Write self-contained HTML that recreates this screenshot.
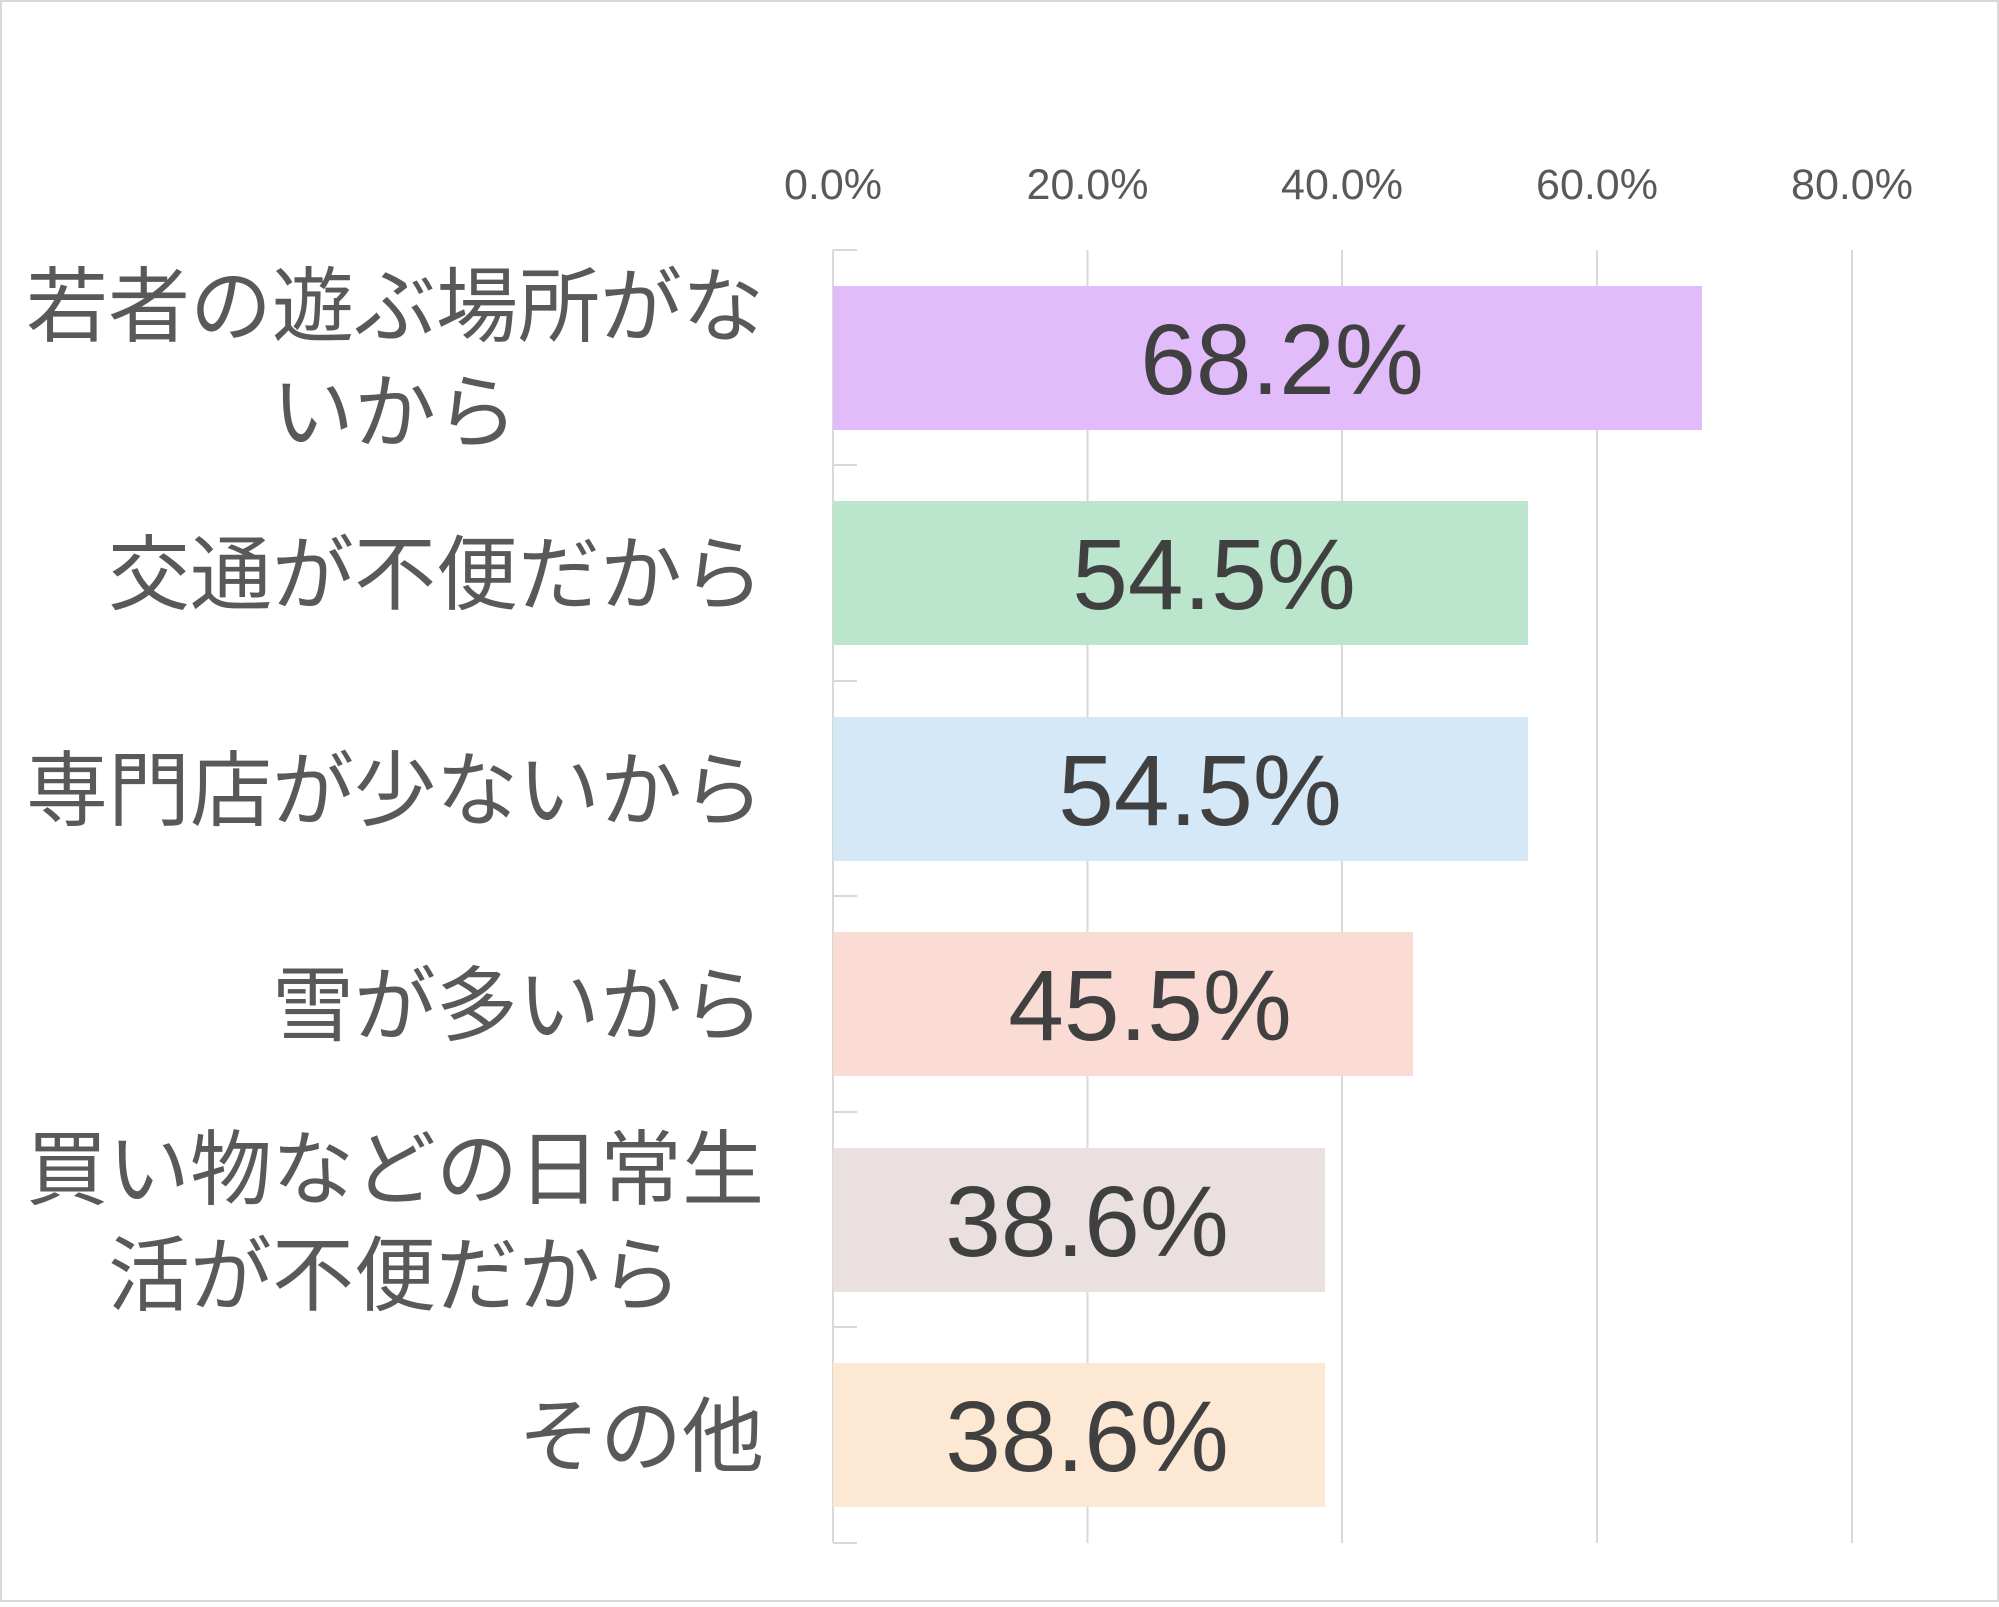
<!DOCTYPE html>
<html><head><meta charset="utf-8"><style>html,body{margin:0;padding:0;background:#fff}</style></head>
<body>
<svg width="1999" height="1602" viewBox="0 0 1999 1602" xmlns="http://www.w3.org/2000/svg">
<rect x="1" y="1" width="1997" height="1600" fill="#fff" stroke="#d9d9d9" stroke-width="2"/>
<g stroke="#d9d9d9" stroke-width="2">
<line x1="1087.5" y1="250" x2="1087.5" y2="1543"/>
<line x1="1342" y1="250" x2="1342" y2="1543"/>
<line x1="1597" y1="250" x2="1597" y2="1543"/>
<line x1="1852" y1="250" x2="1852" y2="1543"/>
<line x1="833" y1="250" x2="833" y2="1543"/>
<line x1="833" y1="250" x2="857" y2="250"/>
<line x1="833" y1="465" x2="857" y2="465"/>
<line x1="833" y1="681" x2="857" y2="681"/>
<line x1="833" y1="896" x2="857" y2="896"/>
<line x1="833" y1="1112" x2="857" y2="1112"/>
<line x1="833" y1="1327" x2="857" y2="1327"/>
<line x1="833" y1="1543" x2="857" y2="1543"/>
</g>
<g font-family="Liberation Sans, sans-serif" font-size="43" fill="#595959" text-anchor="middle">
<text x="833" y="199">0.0%</text>
<text x="1087.5" y="199">20.0%</text>
<text x="1342" y="199">40.0%</text>
<text x="1597" y="199">60.0%</text>
<text x="1852" y="199">80.0%</text>
</g>
<rect x="833" y="286" width="869" height="144" fill="#e2bbfa"/>
<rect x="833" y="501" width="695" height="144" fill="#bce5cd"/>
<rect x="833" y="717" width="695" height="144" fill="#d5e8f7"/>
<rect x="833" y="932" width="580" height="144" fill="#fadcd5"/>
<rect x="833" y="1148" width="492" height="144" fill="#ebe0e0"/>
<rect x="833" y="1363" width="492" height="144" fill="#fde8d3"/>
<g font-family="Liberation Sans, sans-serif" font-size="100" fill="#404040" text-anchor="middle">
<text x="1282" y="394">68.2%</text>
<text x="1214" y="609">54.5%</text>
<text x="1200" y="825">54.5%</text>
<text x="1150" y="1040">45.5%</text>
<text x="1087" y="1256">38.6%</text>
<text x="1087" y="1471">38.6%</text>
</g>
<g font-family="Liberation Sans, 'Noto Sans CJK JP', sans-serif" font-size="82" fill="#595959">
<text x="395" y="335" text-anchor="middle">若者の遊ぶ場所がな</text>
<text x="395" y="441" text-anchor="middle">いから</text>
<text x="764" y="603" text-anchor="end">交通が不便だから</text>
<text x="764" y="819" text-anchor="end">専門店が少ないから</text>
<text x="764" y="1034" text-anchor="end">雪が多いから</text>
<text x="395" y="1198" text-anchor="middle">買い物などの日常生</text>
<text x="395" y="1304" text-anchor="middle">活が不便だから</text>
<text x="764" y="1465" text-anchor="end">その他</text>
</g>
</svg>
</body></html>
